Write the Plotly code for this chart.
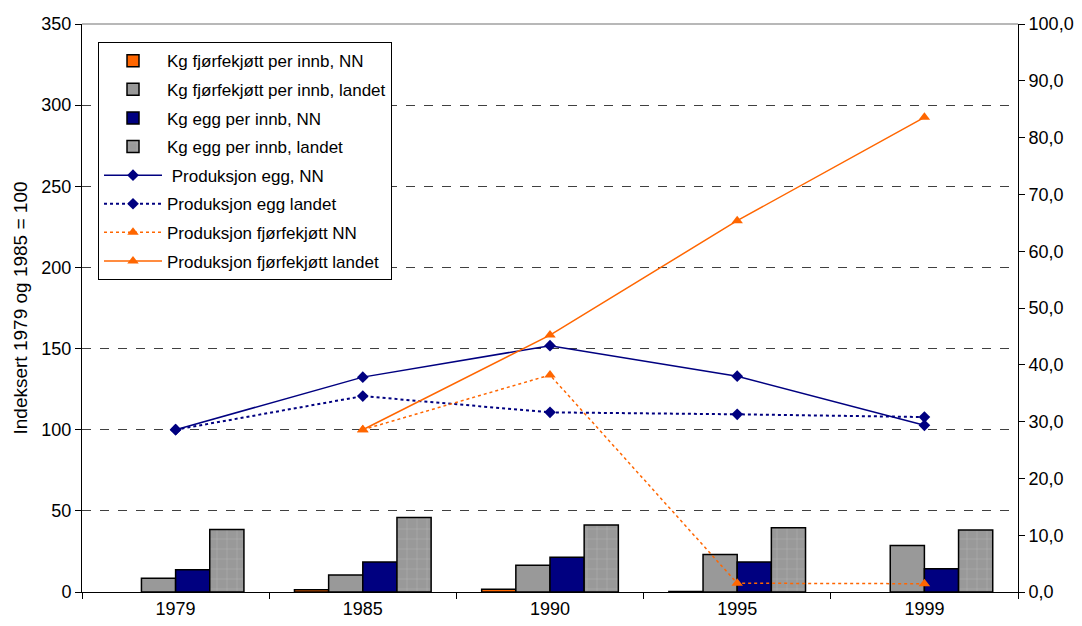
import plotly.graph_objects as go

years = ["1979", "1985", "1990", "1995", "1999"]

# Kg per inhabitant (right axis)
kjott_nn = [None, 0.4, 0.5, 0.1, None]
kjott_landet = [2.4, 3.0, 4.7, 6.6, 8.2]
egg_nn = [3.9, 5.3, 6.1, 5.3, 4.1]
egg_landet = [11.0, 13.1, 11.8, 11.3, 10.9]

# Production index, 1979 and 1985 = 100 (left axis)
prod_egg_nn = [100, 132.4, 151.8, 133.0, 102.7]
prod_egg_landet = [100, 120.7, 110.7, 109.5, 107.8]
prod_kjott_nn = [None, 100, 133.7, 5.4, 5.1]
prod_kjott_landet = [None, 100, 158.3, 228.8, 292.5]

NAVY = "#000080"
ORANGE = "#FF6600"
GREY = "#999999"
FONT = "Liberation Sans, Arial, sans-serif"
TICK = 18

fig = go.Figure()

bar_line = dict(color="black", width=1.5)
fig.add_trace(go.Bar(x=years, y=kjott_nn, name="Kg fjørfekjøtt per innb, NN",
                     marker=dict(color=ORANGE, line=bar_line), legendgroup="a"))
fig.add_trace(go.Bar(x=years, y=kjott_landet, name="Kg fjørfekjøtt per innb, landet",
                     marker=dict(color=GREY, line=bar_line), legendgroup="b"))
fig.add_trace(go.Bar(x=years, y=egg_nn, name="Kg egg per innb, NN",
                     marker=dict(color=NAVY, line=bar_line), legendgroup="c"))
fig.add_trace(go.Bar(x=years, y=egg_landet, name="Kg egg per innb, landet",
                     marker=dict(color=GREY, line=bar_line,
                                 pattern=dict(shape="+", fgcolor="#cfcfcf", bgcolor=GREY,
                                              size=10, solidity=0.08, fgopacity=0.55)),
                     legendgroup="d"))

fig.add_trace(go.Scatter(x=years, y=prod_egg_nn, name=" Produksjon egg, NN", yaxis="y2",
                         mode="lines+markers", line=dict(color=NAVY, width=1.5),
                         marker=dict(symbol="diamond", size=9, color=NAVY), legendgroup="e"))
fig.add_trace(go.Scatter(x=years, y=prod_egg_landet, name="Produksjon egg landet", yaxis="y2",
                         mode="lines+markers", line=dict(color=NAVY, width=2, dash="dot"),
                         marker=dict(symbol="diamond", size=9, color=NAVY), legendgroup="f"))
fig.add_trace(go.Scatter(x=years, y=prod_kjott_nn, name="Produksjon fjørfekjøtt NN", yaxis="y2",
                         mode="lines+markers", line=dict(color=ORANGE, width=1.5, dash="dot"),
                         marker=dict(symbol="triangle-up", size=10, color=ORANGE), legendgroup="g"))
fig.add_trace(go.Scatter(x=years, y=prod_kjott_landet, name="Produksjon fjørfekjøtt landet", yaxis="y2",
                         mode="lines+markers", line=dict(color=ORANGE, width=1.5),
                         marker=dict(symbol="triangle-up", size=10, color=ORANGE), legendgroup="h"))

fig.update_layout(
    width=1082, height=626,
    margin=dict(l=82, r=64, t=24, b=34),
    paper_bgcolor="white", plot_bgcolor="white",
    font=dict(family=FONT, size=17, color="black"),
    separators=", ",
    barmode="group", bargap=0.27, bargroupgap=0,
    xaxis=dict(type="category", showline=True, linecolor="black", linewidth=1,
               ticks="outside", tickson="boundaries", ticklen=6, tickcolor="black",
               showgrid=False, tickfont=dict(size=TICK), automargin=False),
    yaxis=dict(side="right", range=[0, 100], dtick=10, tickformat=".1f",
               showline=True, linecolor="black", linewidth=1, ticks="outside",
               ticklen=6, tickcolor="black", showgrid=False, zeroline=False,
               tickfont=dict(size=TICK), automargin=False),
    yaxis2=dict(overlaying="y", side="left", range=[0, 350], dtick=50,
                showline=True, linecolor="black", linewidth=1, ticks="outside",
                ticklen=6, tickcolor="black", showgrid=True, gridcolor="#404040",
                griddash="dash", gridwidth=1, zeroline=False, tickfont=dict(size=TICK),
                automargin=False,
                title=dict(text="Indeksert 1979 og 1985 = 100", standoff=8,
                           font=dict(size=19))),
    legend=dict(x=0.0171, y=0.968, xanchor="left", yanchor="top",
                bgcolor="white", bordercolor="black", borderwidth=1,
                traceorder="grouped", tracegroupgap=3.5, itemwidth=58,
                font=dict(size=17)),
    shapes=[dict(type="line", xref="paper", yref="paper", x0=0, x1=1, y0=1, y1=1,
                 line=dict(color="#a0a0a0", width=1.5), layer="above")],
)

fig.write_html("out.html")
